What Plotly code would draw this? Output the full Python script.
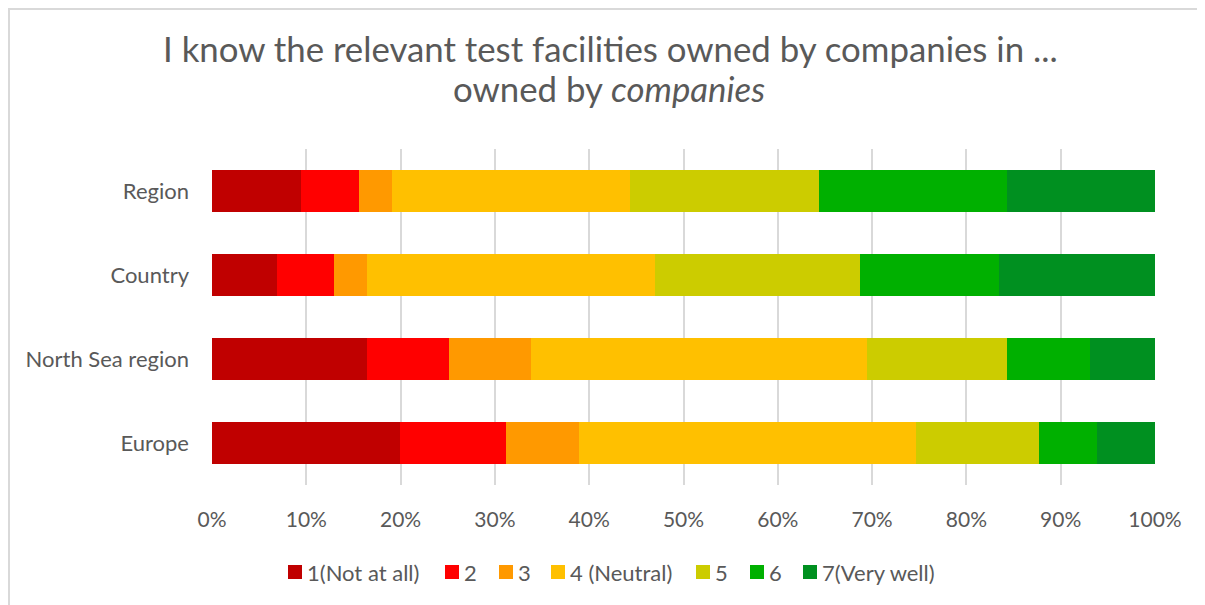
import plotly.graph_objects as go

categories = ["Europe", "North Sea region", "Country", "Region"]
series_names = ["1(Not at all)", "2", "3", "4 (Neutral)", "5", "6", "7(Very well)"]
colors = ["#C00000", "#FF0000", "#FF9900", "#FFC000", "#CCCC00", "#00B000", "#009020"]

s1 = [19.9, 16.4, 6.9, 9.4]
s2 = [11.3, 8.7, 6.0, 6.2]
s3 = [7.7, 8.7, 3.5, 3.5]
s4 = [35.8, 35.7, 30.6, 25.2]
s5 = [13.0, 14.8, 21.7, 20.1]
s6 = [6.2, 8.8, 14.8, 19.9]
s7 = [6.1, 6.9, 16.5, 15.7]
series = [s1, s2, s3, s4, s5, s6, s7]

title_line1 = "I know the relevant test facilities owned by companies in ..."
title_line2 = "owned by <i>companies</i>"

FONT = "Lato, Open Sans, sans-serif"
GRAY = "#595959"

# layout geometry (pixels inside the figure)
W, H = 1197, 597
ML, MR, MT, MB = 204, 50, 141, 120
PW, PH = W - ML - MR, H - MT - MB


def px_x(x):  # figure pixel -> paper x
    return (x - ML) / PW


def px_y(y):  # figure pixel (from top) -> paper y
    return (H - MB - y) / PH


fig = go.Figure()
for name, vals, col in zip(series_names, series, colors):
    fig.add_trace(go.Bar(
        y=categories, x=[v / 100 for v in vals], name=name, orientation="h",
        marker=dict(color=col, line=dict(width=0)), showlegend=False,
    ))

# manual legend (Excel-like compact spacing)
legend_swatch_x = [280, 437, 491, 543, 688, 742, 795]
sw = 14
legend_y_top = 557
shapes = [dict(type="rect", xref="paper", yref="paper",
               x0=px_x(1), x1=px_x(W + 60), y0=px_y(H + 10), y1=px_y(1),
               line=dict(color="#D9D9D9", width=2), layer="below")]
annotations = [
    dict(text=title_line1, xref="paper", yref="paper", x=px_x(602), y=px_y(40.5),
         xanchor="center", yanchor="middle", showarrow=False,
         font=dict(size=34.8, color=GRAY, family=FONT)),
    dict(text=title_line2, xref="paper", yref="paper", x=px_x(601), y=px_y(80.5),
         xanchor="center", yanchor="middle", showarrow=False,
         font=dict(size=34.8, color=GRAY, family=FONT)),
]
for name, col, sx in zip(series_names, colors, legend_swatch_x):
    shapes.append(dict(type="rect", xref="paper", yref="paper",
                       x0=px_x(sx), x1=px_x(sx + sw),
                       y0=px_y(legend_y_top + sw), y1=px_y(legend_y_top),
                       fillcolor=col, line=dict(width=0)))
    annotations.append(dict(text=name, xref="paper", yref="paper",
                            x=px_x(sx + sw + 3), y=px_y(legend_y_top + sw / 2 + 0.5),
                            xanchor="left", yanchor="middle", showarrow=False,
                            font=dict(size=22, color=GRAY, family=FONT)))

fig.update_layout(
    barmode="stack",
    bargap=0.5,
    width=W, height=H,
    paper_bgcolor="white", plot_bgcolor="white",
    font=dict(family=FONT, color=GRAY, size=20),
    margin=dict(l=ML, r=MR, t=MT, b=MB, autoexpand=False),
    showlegend=False,
    xaxis=dict(
        range=[0, 1], tickformat=".0%", dtick=0.1, showgrid=True,
        gridcolor="#D9D9D9", gridwidth=2, zeroline=False, showline=False,
        ticks="", ticklabelstandoff=20, tickfont=dict(size=21, color=GRAY),
    ),
    yaxis=dict(
        showgrid=False, zeroline=False, showline=False, ticks="",
        ticklabelstandoff=22, tickfont=dict(size=22, color=GRAY),
    ),
    annotations=annotations,
    shapes=shapes,
)

fig.write_html("out.html")
